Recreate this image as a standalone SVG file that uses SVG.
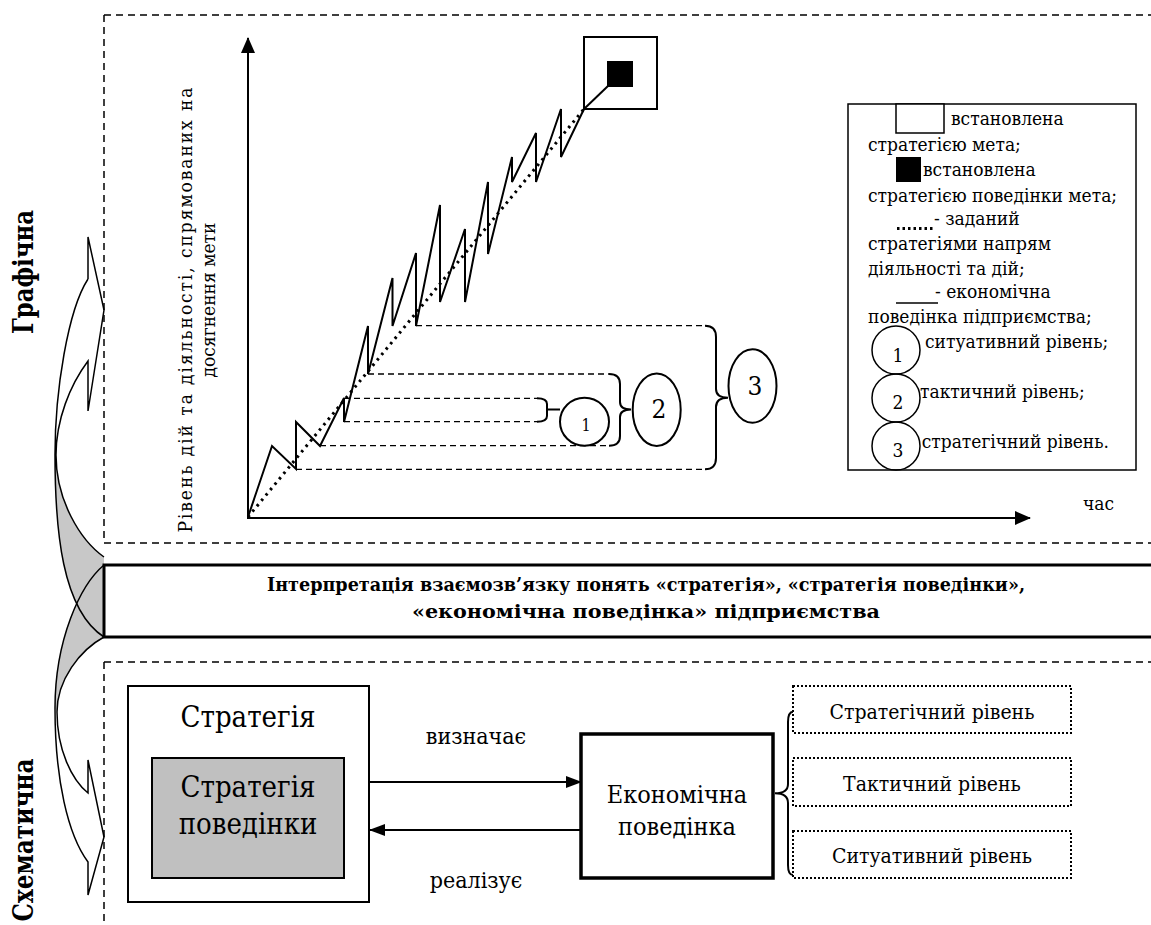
<svg xmlns="http://www.w3.org/2000/svg" width="1151" height="925" viewBox="0 0 1151 925">
<defs>
<marker id="ah" viewBox="0 0 16 14" refX="15" refY="7" markerWidth="16" markerHeight="14" markerUnits="userSpaceOnUse" orient="auto">
<path d="M0,0 L16,7 L0,14 Z" fill="#000"/>
</marker>
<marker id="ah2" viewBox="0 0 16 12" refX="15" refY="6" markerWidth="16" markerHeight="12" markerUnits="userSpaceOnUse" orient="auto">
<path d="M0,0 L16,6 L0,12 Z" fill="#000"/>
</marker>
</defs>
<style>
text{font-family:"DejaVu Serif Condensed","DejaVu Serif","Liberation Serif",serif;font-stretch:condensed;fill:#000}
.frame{fill:none;stroke:#000;stroke-width:1.5;stroke-dasharray:7 5}
.lvl{fill:none;stroke:#000;stroke-width:1.3;stroke-dasharray:6 4}
.br{fill:none;stroke:#000;stroke-width:2}
.ln{fill:none;stroke:#000;stroke-width:2}
.arw{stroke:#000;stroke-width:1.5;fill:none}
.lg{font-size:19px}
.dotbox{fill:#fff;stroke:#000;stroke-width:2;stroke-dasharray:2 2}
</style>
<rect width="1151" height="925" fill="#fff"/>

<g id="side-labels">
<text transform="translate(33,272) rotate(-90)" text-anchor="middle" font-size="27" font-weight="bold" textLength="124" lengthAdjust="spacingAndGlyphs">Графічна</text>
<text transform="translate(33,840) rotate(-90)" text-anchor="middle" font-size="27" font-weight="bold" textLength="163" lengthAdjust="spacingAndGlyphs">Схематична</text>
</g>

<g id="curved-arrows">
<path d="M88,279 V237 L104,310 L88,411 V361 C70,385 56,420 56,455 C56,500 80,540 104,557 L104,637 C62,610 55,530 55,455 C55,390 68,310 88,279 Z" fill="#fff"/>
<path d="M104,565 C80,585 55,640 55,708 C55,780 68,835 88,862 V895 L104,837 L88,760 V793 C72,780 57,750 57,712 C57,680 80,650 104,637 Z" fill="#fff"/>
<path d="M56,455 C56,500 80,540 104,557 L104,637 C62,610 55,530 55,455 Z" fill="#c8c8c8"/>
<path d="M104,565 C80,585 55,640 55,708 L57,712 C57,680 80,650 104,637 Z" fill="#c8c8c8"/>
<path class="arw" d="M88,279 V237 L104,310 L88,411 V361 C70,385 56,420 56,455 C56,500 80,540 104,557 M104,637 C62,610 55,530 55,455 C55,390 68,310 88,279"/>
<path class="arw" d="M104,565 C80,585 55,640 55,708 C55,780 68,835 88,862 V895 L104,837 L88,760 V793 C72,780 57,750 57,712 C57,680 80,650 104,637"/>
</g>

<g id="frames">
<path class="frame" d="M104,15 H1151 M104,15 V543 M104,543 H1151"/>
<path class="frame" d="M104,662 H1151 M104,662 V925"/>
</g>

<g id="interpretation">
<rect x="104" y="565" width="1060" height="72" fill="#fff" stroke="#000" stroke-width="3"/>
<text x="646" y="591" text-anchor="middle" font-size="19" font-weight="bold" textLength="758" lengthAdjust="spacingAndGlyphs">Інтерпретація взаємозв’язку понять «стратегія», «стратегія поведінки»,</text>
<text x="646" y="618" text-anchor="middle" font-size="19" font-weight="bold" textLength="468" lengthAdjust="spacingAndGlyphs">«економічна поведінка» підприємства</text>
</g>

<g id="chart-axes">
<line x1="248" y1="518" x2="248" y2="38" class="ln" marker-end="url(#ah)"/>
<line x1="247" y1="518" x2="1030" y2="518" class="ln" marker-end="url(#ah)"/>
<text transform="translate(192,310) rotate(-90)" text-anchor="middle" font-size="19" textLength="445">Рівень дій та діяльності, спрямованих на</text>
<text transform="translate(215,300) rotate(-90)" text-anchor="middle" font-size="19">досягнення мети</text>
<text x="1083" y="510" font-size="19">час</text>
</g>

<g id="chart-lines">
<line x1="248" y1="517" x2="584" y2="109" stroke="#000" stroke-width="3" stroke-dasharray="2.5 4.5"/>
<polyline class="ln" points="248,517 272,446 296,469 296,422 320,446 344,398 344,422 368,326 368,374 392.5,278 392.5,326 416,253 416,326 440,205 440,302 465,229 465,302 488,182 488,254 512,157 512,182 536,133 536,182 561,109 561,157 584,109"/>
</g>

<g id="goal">
<rect x="584" y="37" width="73" height="72" fill="#fff" stroke="#000" stroke-width="2"/>
<rect x="607" y="61" width="26" height="26" fill="#000"/>
<line x1="584" y1="109" x2="608" y2="86" class="ln"/>
</g>

<g id="levels">
<path class="lvl" d="M416,325.7 H705 M296,469.3 H705 M368,374 H609 M320,445.7 H609 M344,398.3 H537 M344,421.7 H537"/>
<path class="br" d="M705,325.7 Q716,325.7 716,337 V389 Q716,397.7 728,397.7 Q716,397.7 716,407 V458 Q716,469.3 705,469.3"/>
<path class="br" d="M609,374 Q620,374 620,384 V402 Q620,409.5 631,409.5 Q620,409.5 620,417 V436 Q620,445.7 609,445.7"/>
<path class="br" d="M537,398.3 Q547,398.3 547,404 V409.5 H560 M547,409.5 V416 Q547,421.7 537,421.7"/>
</g>

<g id="level-1">
<ellipse cx="584.5" cy="421.7" rx="24.5" ry="24" fill="#fff" stroke="#000" stroke-width="2"/>
<text x="586" y="431" text-anchor="middle" font-size="16">1</text>
</g>
<g id="level-2">
<ellipse cx="656.7" cy="409.7" rx="24" ry="36.3" fill="#fff" stroke="#000" stroke-width="2"/>
<text x="659" y="418" text-anchor="middle" font-size="26">2</text>
</g>
<g id="level-3">
<ellipse cx="752.5" cy="386" rx="24" ry="36.7" fill="#fff" stroke="#000" stroke-width="2"/>
<text x="755" y="395" text-anchor="middle" font-size="26">3</text>
</g>

<g id="legend">
<rect x="848" y="104" width="288" height="366" fill="#fff" stroke="#000" stroke-width="1.5"/>
<rect x="896" y="104" width="48" height="29" fill="#fff" stroke="#000" stroke-width="1.5"/>
<text x="951" y="125" class="lg">встановлена</text>
<text x="868" y="150.7" class="lg">стратегією мета;</text>
<rect x="896" y="157" width="25" height="25" fill="#000"/>
<text x="923" y="176" class="lg">встановлена</text>
<text x="868" y="201.7" class="lg">стратегією поведінки мета;</text>
<line x1="897" y1="228.5" x2="935" y2="228.5" stroke="#000" stroke-width="3" stroke-dasharray="2.5 3"/>
<text x="934" y="225" class="lg">- заданий</text>
<text x="868" y="250" class="lg">стратегіями напрям</text>
<text x="868" y="275" class="lg">діяльності та дій;</text>
<line x1="896" y1="303" x2="938" y2="303" stroke="#000" stroke-width="1.5"/>
<text x="935" y="298.3" class="lg">- економічна</text>
<text x="868" y="323.3" class="lg">поведінка підприємства;</text>
<circle cx="896" cy="350" r="24" fill="none" stroke="#000" stroke-width="1.5"/>
<circle cx="896" cy="398" r="24" fill="none" stroke="#000" stroke-width="1.5"/>
<circle cx="896" cy="446" r="24" fill="none" stroke="#000" stroke-width="1.5"/>
<text x="898" y="361.7" text-anchor="middle" class="lg">1</text>
<text x="898" y="409.3" text-anchor="middle" class="lg">2</text>
<text x="898" y="456.7" text-anchor="middle" class="lg">3</text>
<text x="925" y="348.3" class="lg">ситуативний рівень;</text>
<text x="920" y="398.3" class="lg">тактичний рівень;</text>
<text x="921.7" y="448.3" class="lg">стратегічний рівень.</text>
</g>

<g id="strategy">
<rect x="128" y="686" width="241" height="216" fill="#fff" stroke="#000" stroke-width="2"/>
<text x="248" y="726.7" text-anchor="middle" font-size="29">Стратегія</text>
</g>
<g id="behaviour-strategy">
<rect x="152" y="758" width="192" height="120" fill="#c0c0c0" stroke="#000" stroke-width="2"/>
<text x="248" y="796.7" text-anchor="middle" font-size="29">Стратегія</text>
<text x="248" y="834.3" text-anchor="middle" font-size="29">поведінки</text>
</g>
<g id="economic-behaviour">
<rect x="581" y="734" width="192" height="144" fill="#fff" stroke="#000" stroke-width="3.5"/>
<text x="677" y="802.7" text-anchor="middle" font-size="25">Економічна</text>
<text x="677" y="835" text-anchor="middle" font-size="25">поведінка</text>
</g>
<g id="lvl-strategic">
<rect x="793" y="686" width="278" height="47" class="dotbox"/>
<text x="932" y="719" text-anchor="middle" font-size="21">Стратегічний рівень</text>
</g>
<g id="lvl-tactical">
<rect x="793" y="758" width="278" height="48" class="dotbox"/>
<text x="932" y="791" text-anchor="middle" font-size="21">Тактичний рівень</text>
</g>
<g id="lvl-situational">
<rect x="793" y="831" width="278" height="47" class="dotbox"/>
<text x="932" y="862.5" text-anchor="middle" font-size="21">Ситуативний рівень</text>
</g>

<g id="connectors">
<line x1="369" y1="782" x2="581" y2="782" stroke="#000" stroke-width="2" marker-end="url(#ah2)"/>
<line x1="581" y1="830" x2="370" y2="830" stroke="#000" stroke-width="2" marker-end="url(#ah2)"/>
<text x="476" y="744.3" text-anchor="middle" font-size="23">визначає</text>
<text x="476" y="888.3" text-anchor="middle" font-size="23">реалізує</text>
<path class="br" d="M793,711.7 Q788,712 788,722 V784 Q788,793.3 775,793.3 Q788,793.3 788,803 V865 Q788,875 793,875"/>
</g>
</svg>
